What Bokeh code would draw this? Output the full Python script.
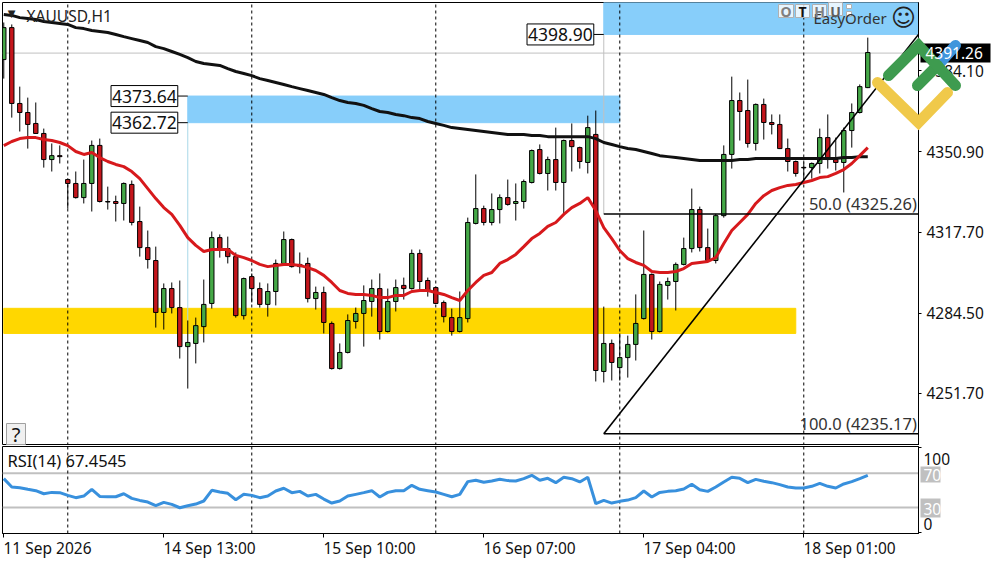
from bokeh.embed import file_html
from bokeh.layouts import column
from bokeh.models import ColumnDataSource, FixedTicker, Label, NumeralTickFormatter, Range1d
from bokeh.plotting import figure
from bokeh.resources import INLINE

FONT = "Noto Sans"
GREEN = "#45A847"
RED = "#C4161C"
SKY = "#87CEFA"
GOLD = "#FFD700"
SILVER = "#C0C0C0"

# H1 bars, oldest first
opens = [4388.6, 4401.7, 4370.6, 4366.9, 4362.4, 4358.3, 4347.6, 4349.2, 4339.4, 4337.8,
         4332.0, 4337.8, 4353.4, 4330.4, 4330.4, 4329.6, 4337.4, 4322.2, 4311.5, 4306.2,
         4284.9, 4294.7, 4286.9, 4270.9, 4272.2, 4279.1, 4288.6, 4315.6, 4311.1, 4307.8,
         4283.6, 4299.6, 4294.7, 4288.2, 4293.5, 4305.0, 4314.8, 4304.6, 4305.0, 4290.6,
         4293.1, 4280.4, 4261.9, 4268.5, 4281.2, 4284.5, 4289.4, 4294.7, 4277.1, 4289.4,
         4296.0, 4294.7, 4309.1, 4298.0, 4295.1, 4289.0, 4282.8, 4277.1, 4282.4, 4321.4,
         4327.5, 4321.8, 4327.1, 4332.0, 4329.6, 4330.4, 4338.2, 4351.7, 4341.9, 4347.6,
         4338.2, 4355.4, 4352.5, 4346.4, 4357.9, 4260.7, 4272.2, 4262.3, 4266.4, 4271.8,
         4282.4, 4300.5, 4277.1, 4296.0, 4297.6, 4304.6, 4311.1, 4327.1, 4311.5, 4306.2,
         4324.6, 4349.7, 4371.8, 4367.7, 4354.2, 4370.2, 4362.8, 4362.0, 4352.1, 4346.8,
         4344.4, 4344.3, 4346.0, 4356.6, 4347.6, 4346.4, 4359.5, 4366.9, 4377.1]
highs = [4403.8, 4403.0, 4377.5, 4373.0, 4371.0, 4360.3, 4354.2, 4353.4, 4339.8, 4342.7,
         4347.6, 4355.4, 4356.2, 4336.5, 4332.8, 4338.2, 4339.0, 4328.3, 4318.5, 4311.9,
         4296.8, 4297.2, 4298.0, 4281.6, 4282.8, 4298.4, 4318.1, 4316.9, 4316.0, 4309.5,
         4299.2, 4300.9, 4297.2, 4296.8, 4306.6, 4318.1, 4315.2, 4309.5, 4307.4, 4295.5,
         4295.5, 4281.2, 4272.2, 4284.1, 4286.9, 4296.0, 4298.4, 4300.9, 4294.7, 4298.4,
         4299.2, 4310.7, 4310.7, 4299.2, 4295.5, 4289.8, 4286.5, 4293.5, 4323.8, 4341.5,
         4328.7, 4333.7, 4333.3, 4339.4, 4337.8, 4339.4, 4351.7, 4353.8, 4348.8, 4360.7,
         4355.8, 4362.4, 4352.9, 4365.6, 4367.7, 4287.3, 4273.8, 4276.3, 4275.4, 4292.3,
         4318.5, 4300.9, 4297.6, 4299.2, 4305.4, 4315.6, 4335.7, 4328.3, 4319.3, 4325.3,
         4353.4, 4381.6, 4375.1, 4380.4, 4370.6, 4372.6, 4366.1, 4366.1, 4356.2, 4347.2,
         4346.4, 4346.4, 4360.3, 4366.1, 4356.6, 4360.7, 4370.6, 4378.4, 4397.6]
lows = [4380.8, 4364.8, 4359.1, 4352.1, 4358.3, 4344.3, 4342.7, 4346.0, 4327.5, 4331.6,
        4329.6, 4326.3, 4330.0, 4327.1, 4322.2, 4322.6, 4320.6, 4307.8, 4302.9, 4278.7,
        4277.9, 4284.5, 4266.0, 4253.7, 4264.0, 4272.6, 4286.5, 4307.4, 4305.0, 4282.8,
        4282.0, 4289.0, 4286.9, 4283.2, 4287.8, 4304.6, 4303.3, 4300.9, 4289.0, 4286.1,
        4276.3, 4261.5, 4261.5, 4268.1, 4278.3, 4270.9, 4283.2, 4273.8, 4276.7, 4285.3,
        4290.2, 4294.3, 4293.9, 4291.4, 4288.4, 4280.8, 4275.4, 4276.7, 4280.8, 4321.0,
        4320.6, 4320.6, 4321.4, 4328.7, 4322.6, 4327.5, 4337.8, 4341.5, 4334.9, 4334.9,
        4325.5, 4342.7, 4343.9, 4341.9, 4256.6, 4256.2, 4257.0, 4257.0, 4258.2, 4265.2,
        4282.0, 4273.8, 4276.7, 4290.2, 4285.7, 4304.2, 4309.5, 4309.9, 4305.8, 4305.0,
        4323.8, 4343.9, 4355.4, 4352.5, 4351.3, 4355.8, 4357.9, 4351.9, 4342.7, 4340.6,
        4339.0, 4339.8, 4341.9, 4343.9, 4343.1, 4334.1, 4352.5, 4366.5, 4376.9]
closes = [4401.7, 4370.6, 4366.9, 4362.0, 4358.3, 4347.6, 4349.2, 4348.8, 4337.8, 4332.0,
          4337.8, 4353.4, 4330.4, 4330.2, 4329.6, 4337.8, 4321.8, 4311.5, 4306.6, 4284.9,
          4294.7, 4286.9, 4270.9, 4272.6, 4279.5, 4288.2, 4315.6, 4311.1, 4307.8, 4283.6,
          4298.8, 4294.7, 4288.2, 4293.5, 4305.0, 4314.8, 4303.7, 4303.7, 4290.6, 4293.1,
          4280.8, 4261.9, 4268.5, 4281.6, 4284.5, 4289.8, 4294.7, 4277.1, 4289.4, 4295.1,
          4294.7, 4309.1, 4297.6, 4293.9, 4288.6, 4283.2, 4277.1, 4282.8, 4321.8, 4327.5,
          4321.8, 4327.1, 4332.0, 4329.2, 4330.4, 4338.6, 4351.3, 4341.9, 4347.6, 4338.2,
          4355.4, 4352.9, 4346.8, 4360.7, 4261.1, 4272.2, 4264.4, 4266.4, 4271.8, 4280.4,
          4300.5, 4277.1, 4296.4, 4297.6, 4304.6, 4311.1, 4327.1, 4311.5, 4306.2, 4324.6,
          4349.7, 4371.8, 4367.3, 4354.2, 4370.2, 4362.8, 4362.0, 4352.1, 4346.8, 4341.9,
          4344.2, 4346.0, 4356.6, 4347.6, 4346.4, 4359.5, 4366.9, 4377.5, 4391.5]

ma_fast = [4353.3, 4355.0, 4356.2, 4356.6, 4356.6, 4355.8, 4355.4, 4354.6, 4353.3, 4350.9,
           4349.7, 4350.5, 4348.4, 4346.8, 4345.6, 4344.7, 4342.7, 4339.8, 4335.7, 4331.6,
           4327.9, 4325.1, 4320.6, 4315.6, 4312.4, 4309.9, 4310.7, 4310.7, 4310.7, 4308.3,
           4307.4, 4306.2, 4304.6, 4303.7, 4304.2, 4304.6, 4304.6, 4304.2, 4303.3, 4302.1,
           4300.1, 4297.2, 4293.9, 4292.7, 4292.3, 4292.3, 4291.9, 4291.0, 4291.0, 4291.9,
           4291.9, 4293.5, 4293.9, 4293.9, 4293.1, 4292.3, 4291.0, 4289.8, 4293.9, 4297.2,
           4300.1, 4301.3, 4305.0, 4306.6, 4308.7, 4311.9, 4315.2, 4317.3, 4320.2, 4321.8,
           4325.1, 4327.9, 4329.6, 4332.0, 4326.7, 4319.7, 4315.2, 4310.3, 4307.0, 4305.4,
           4304.2, 4301.7, 4301.3, 4301.3, 4301.7, 4302.9, 4305.0, 4305.4, 4305.8, 4307.4,
           4313.2, 4318.5, 4321.8, 4325.1, 4329.6, 4332.8, 4334.9, 4336.1, 4337.0, 4337.4,
           4338.2, 4339.0, 4340.2, 4340.6, 4341.9, 4343.5, 4346.0, 4349.2, 4352.5]
ma_slow = [4407.1, 4406.7, 4405.8, 4405.4, 4405.0, 4404.2, 4403.8, 4403.4, 4403.0, 4401.7,
           4401.3, 4400.5, 4400.1, 4399.7, 4398.9, 4398.0, 4397.2, 4396.4, 4395.6, 4393.9,
           4393.1, 4391.9, 4390.7, 4389.4, 4387.8, 4387.0, 4386.6, 4386.2, 4384.9, 4383.7,
           4382.9, 4382.0, 4380.8, 4380.0, 4379.2, 4378.4, 4377.5, 4376.7, 4375.9, 4375.1,
           4374.3, 4373.0, 4371.8, 4371.0, 4370.6, 4369.8, 4368.5, 4367.3, 4366.9, 4366.1,
           4365.6, 4364.8, 4364.4, 4363.2, 4362.4, 4361.6, 4360.7, 4360.3, 4359.9, 4359.5,
           4359.1, 4358.7, 4358.3, 4357.9, 4357.9, 4357.9, 4357.5, 4357.5, 4357.0, 4357.0,
           4357.0, 4357.0, 4357.0, 4357.0, 4356.2, 4354.6, 4353.8, 4352.9, 4352.1, 4351.7,
           4350.9, 4350.1, 4349.2, 4348.8, 4348.4, 4348.0, 4347.6, 4347.2, 4347.2, 4347.2,
           4347.2, 4347.2, 4347.6, 4347.6, 4348.0, 4348.0, 4348.0, 4348.0, 4348.0, 4348.0,
           4348.0, 4348.0, 4348.0, 4348.0, 4348.0, 4348.4, 4348.4, 4348.8, 4348.8]
rsi = [63.7, 53.9, 53.1, 51.2, 49.6, 46.0, 47.6, 47.3, 44.1, 41.4,
       43.3, 51.2, 42.9, 42.5, 42.5, 46.0, 40.6, 38.2, 36.3, 32.0,
       35.9, 33.5, 29.6, 32.0, 33.9, 37.5, 50.0, 48.0, 46.5, 39.0,
       45.3, 44.1, 41.4, 43.3, 49.2, 52.4, 47.3, 48.8, 43.3, 45.3,
       39.8, 35.1, 37.5, 43.3, 45.3, 47.3, 49.6, 42.2, 47.6, 49.6,
       49.6, 55.9, 51.2, 49.6, 48.0, 45.3, 42.5, 45.3, 60.2, 61.8,
       59.4, 61.0, 62.9, 61.4, 61.0, 63.7, 67.6, 61.8, 64.1, 59.0,
       65.3, 63.7, 59.8, 65.3, 34.3, 38.2, 35.1, 37.1, 38.6, 41.4,
       49.2, 42.2, 47.6, 48.8, 49.6, 51.6, 57.1, 50.8, 48.8, 53.9,
       59.8, 65.3, 64.1, 59.0, 62.9, 60.6, 59.0, 56.7, 53.9, 52.7,
       52.7, 54.7, 58.2, 54.7, 52.7, 57.5, 60.2, 63.7, 67.5]

price_ticks = [4384.10, 4350.90, 4317.70, 4284.50, 4251.70]
time_ticks = [0, 20, 40, 60, 80, 100]
time_labels = ["11 Sep 2026", "14 Sep 13:00", "15 Sep 10:00", "16 Sep 07:00", "17 Sep 04:00", "18 Sep 01:00"]
day_breaks = [8, 31, 54, 77, 100]

# chart objects, in price and bar terms
resistance = [4373.64, 4362.72]
resistance_bars = [23, 77]
upper = 4398.90
fib_start = 75
fib_50 = 4325.26
fib_100 = 4235.17
support = [4286.6, 4276.3]
support_end = 99
bid = 4391.26
x_left, x_right = -0.16, 114.34
y_low, y_high = 4230.35, 4412.0

bars = list(range(len(closes)))


def tag(bar, price, s, p):
    # boxed price with a short leader, left of the object it belongs to
    p.add_layout(Label(x=bar - 1.25, y=price, text=s, text_font=FONT, text_font_size="17.5px", text_color="#111111",
                       text_align="right", text_baseline="middle", padding=(1, 4),
                       background_fill_color="white", border_line_color="black"))
    p.segment(x0=[bar - 1.25], y0=[price], x1=[bar], y1=[price], line_color="black", line_width=1)


p = figure(width=990, height=443, x_range=Range1d(x_left, x_right), y_range=Range1d(y_low, y_high),
           y_axis_location="right", output_backend="svg", toolbar_location=None, tools="",
           min_border_left=0, min_border_right=74, min_border_top=0, min_border_bottom=0)
p.xaxis.visible = False
p.grid.visible = False
p.outline_line_color = "black"
p.yaxis.ticker = FixedTicker(ticks=price_ticks)
p.yaxis.formatter = NumeralTickFormatter(format="0.00")
p.yaxis.major_label_text_font = FONT
p.yaxis.major_label_text_font_size = "15.5px"
p.yaxis.major_label_text_color = "#111111"
p.yaxis.major_tick_in = 0
p.yaxis.major_tick_out = 3
p.yaxis.minor_tick_line_color = None
p.yaxis.axis_line_color = "black"

p.quad(left=[0], right=[support_end], bottom=[support[1]], top=[support[0]], color=GOLD)
p.quad(left=[resistance_bars[0]], right=[resistance_bars[1]], bottom=[resistance[1]], top=[resistance[0]], color=SKY)
p.quad(left=[fib_start], right=[x_right], bottom=[upper], top=[y_high], color=SKY)
p.segment(x0=[x_left], y0=[bid], x1=[x_right], y1=[bid], line_color=SILVER, line_width=1)
p.segment(x0=[resistance_bars[0]], y0=[resistance[1]], x1=[resistance_bars[0]], y1=[4281.6], line_color="#A8D8E8", line_width=1)
p.segment(x0=[fib_start], y0=[fib_50], x1=[fib_start], y1=[upper], line_color=SILVER, line_width=1)
p.segment(x0=day_breaks, y0=[y_low] * 5, x1=day_breaks, y1=[y_high] * 5, line_color="black", line_width=1, line_dash="3 3")

candles = ColumnDataSource(dict(
    bar=bars, low=lows, high=highs,
    top=[max(o, c) for o, c in zip(opens, closes)],
    bottom=[min(o, c) for o, c in zip(opens, closes)],
    colour=[GREEN if c >= o else RED for o, c in zip(opens, closes)],
))
p.segment(x0="bar", y0="low", x1="bar", y1="high", source=candles, line_color="black", line_width=1)
p.vbar(x="bar", width=0.55, top="top", bottom="bottom", source=candles, fill_color="colour", line_color="black", line_width=1)

p.line(bars, ma_slow, line_color="#111111", line_width=3)
p.line(bars, ma_fast, line_color="#D7191C", line_width=3)

p.segment(x0=[fib_start, fib_start], y0=[fib_50, fib_100], x1=[x_right, x_right], y1=[fib_50, fib_100], line_color="black", line_width=1.6)
p.line([fib_start, x_right], [fib_100, upper], line_color="black", line_width=1.6)

tag(resistance_bars[0], resistance[0], "4373.64", p)
tag(resistance_bars[0], resistance[1], "4362.72", p)
tag(fib_start, upper, "4398.90", p)

for price, s in [(fib_50, "50.0 (4325.26)"), (fib_100, "100.0 (4235.17)")]:
    p.add_layout(Label(x=x_right - 0.2, y=price, text=s, text_align="right", text_baseline="bottom", y_offset=-1,
                       text_font=FONT, text_font_size="16.5px", text_color="#333333"))

r = figure(width=990, height=109, x_range=p.x_range, y_range=Range1d(-0.6, 101.4),
           y_axis_location="right", output_backend="svg", toolbar_location=None, tools="",
           min_border_left=0, min_border_right=74, min_border_top=0, min_border_bottom=22)
r.grid.visible = False
r.outline_line_color = "black"
r.xaxis.ticker = FixedTicker(ticks=time_ticks)
r.xaxis.major_label_overrides = {t: "" for t in time_ticks}
r.xaxis.major_tick_in = 0
r.xaxis.major_tick_out = 4
r.xaxis.minor_tick_line_color = None
r.yaxis.ticker = FixedTicker(ticks=[0, 100])
r.yaxis.major_label_overrides = {0: "", 100: ""}
r.yaxis.major_tick_in = 0
r.yaxis.major_tick_out = 3
r.yaxis.minor_tick_line_color = None

r.segment(x0=[x_left, x_left], y0=[70, 30], x1=[x_right, x_right], y1=[70, 30], line_color=SILVER, line_width=2)
r.segment(x0=day_breaks, y0=[-0.6] * 5, x1=day_breaks, y1=[101.4] * 5, line_color="black", line_width=1, line_dash="3 3")
r.line(bars, rsi, line_color="#3890DD", line_width=3)

# transparent sheet over the page, its scale is page pixels: the terminal's
# texts and the logo sit across the frame edges
sheet = figure(width=1000, height=562, x_range=Range1d(0, 1000), y_range=Range1d(562, 0),
               x_axis_location=None, y_axis_location=None, output_backend="svg", toolbar_location=None, tools="",
               min_border=0, background_fill_alpha=0, border_fill_alpha=0,
               styles={"position": "absolute", "left": "0px", "top": "0px"})
sheet.grid.visible = False
sheet.outline_line_color = None


def note(x, y, s, size="15.5px", color="#111111", **kw):
    sheet.add_layout(Label(x=x, y=y, text=s, text_font=kw.pop("font", FONT), text_font_size=size, text_color=color,
                           text_baseline="middle", **kw))


note(26, 15, "XAUUSD,H1", color="#222222")
note(11, 13, "\u25bc", size="10px", font="DejaVu Sans", color="#222222", text_align="center")
note(813, 17, "EasyOrder", size="15px", color="#333333")
note(903, 17, "\u263a", size="24px", font="DejaVu Sans", color="#222222", text_align="center")

button_left = [778, 795, 812, 828]
button_right = [793, 809, 826, 842]
sheet.quad(left=button_left, right=button_right, top=[4, 4, 4, 2], bottom=[17, 17, 17, 15],
           fill_color="white", fill_alpha=0.8, line_color="#B0B0B0")
for x, s, colour in zip([785.5, 802, 819, 835], "OTHU", ["#808080", "#111111", "#808080", "#606060"]):
    note(x, 10.5, s, size="14px", color=colour, text_align="center", text_font_style="bold")
sheet.quad(left=[846, 846], right=[851, 851], top=[4, 11], bottom=[8, 16], fill_color="white", line_color="#B0B0B0")

sheet.quad(left=[6], right=[25], top=[423], bottom=[444], fill_color="#F0F0F0", line_color="#A0A0A0")
note(15.5, 434, "?", size="20px", text_align="center")

note(7, 460, "RSI(14) 67.4545", size="16.5px")
note(923, 458, "100")
note(923, 523, "0")
sheet.quad(left=[920, 920], right=[940, 940], top=[466, 498], bottom=[482, 517], fill_color=SILVER, line_color=None)
note(923, 474, "70", color="white")
note(923, 508, "30", color="white")
for t, s in zip(time_ticks, time_labels):
    note(3 + 8 * t, 547, s)

sheet.quad(left=[920], right=[990], top=[43], bottom=[62], fill_color="black", line_color=None)
note(925, 52, "4391.26", color="white")

logo_blue = ([937, 955], [65, 45])
logo_yellow = ([877, 918, 947], [82, 122, 92])
logo_stem = ([917, 937], [85, 65])
logo_green = ([888, 918, 955], [75, 45, 85])
for (xs, ys), colour in [(logo_blue, "#3F95DC"), (logo_yellow, "#F0C94A"), (logo_stem, "#3E9B4F"), (logo_green, "#3E9B4F")]:
    sheet.line(xs, ys, line_color=colour, line_width=11, line_cap="round", line_join="miter")

layout = column(p, r, spacing=1, styles={"position": "absolute", "left": "2px", "top": "2px"})
open("out.html", "w").write(file_html([layout, sheet], INLINE))
